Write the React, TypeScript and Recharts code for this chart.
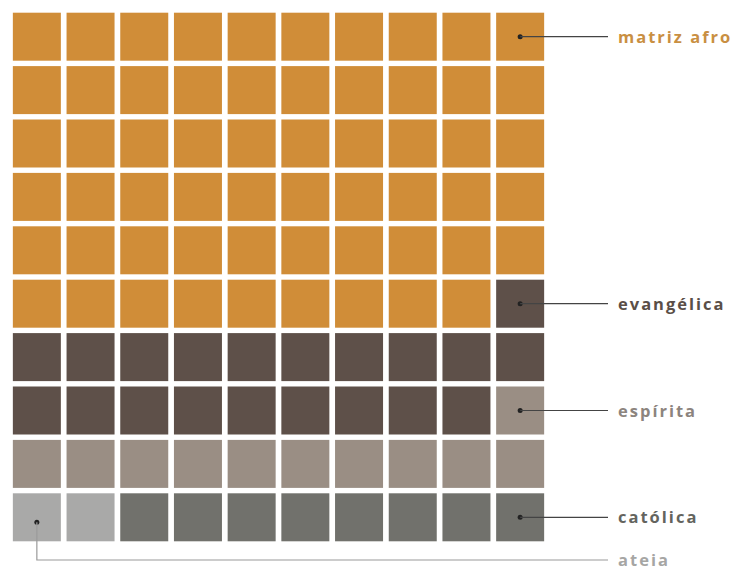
import { Scatter, ScatterChart, XAxis, YAxis } from "recharts"

// waffle: 100 cells, filled row by row from the top left
const categories = ["matriz afro", "evangélica", "espírita", "ateia", "católica"]
const counts = [59, 20, 11, 2, 8]
// which cell (index inside each category) carries the label dot
const anchorCell = [9, 0, 0, 0, 7]

const fills = ["#D08D38", "#5E5049", "#9A8E84", "#A9A9A8", "#71716C"]
const textColors = ["#C98F42", "#5A4E47", "#8C847E", "#A6A6A4", "#64645E"]

type CellPoint = { x: number; y: number; cat: number; label?: string; elbow?: boolean }

const series: CellPoint[][] = []
const anchors: CellPoint[] = []
let idx = 0
categories.forEach((name, c) => {
  const pts: CellPoint[] = []
  for (let k = 0; k < counts[c]; k++) {
    const p = { x: (idx % 10) + 0.5, y: Math.floor(idx / 10) + 0.5, cat: c }
    pts.push(p)
    if (k === anchorCell[c]) {
      anchors.push({ ...p, label: name, elbow: p.x < 5 })
    }
    idx++
  }
  series.push(pts)
})

const CELL = 48
const LINE_END = 608
const TEXT_X = 618

const Square = (props: any) => (
  <rect
    x={props.cx - CELL / 2}
    y={props.cy - CELL / 2}
    width={CELL}
    height={CELL}
    fill={props.fill}
  />
)

const Callout = (props: any) => {
  const { cx, cy, payload } = props
  const c = payload.cat
  const textStyle = {
    fontFamily: "'Open Sans', sans-serif",
    fontWeight: 700,
    fontSize: 16.5,
    letterSpacing: 2,
  }
  if (payload.elbow) {
    const dy = cy + 5
    const bottom = 560
    return (
      <g>
        <circle cx={cx} cy={dy} r={2.5} fill="#222" />
        <polyline
          points={`${cx},${dy} ${cx},${bottom} ${LINE_END},${bottom}`}
          fill="none"
          stroke="#9a9a9a"
          strokeWidth={1.2}
        />
        <text x={TEXT_X} y={bottom + 6} fill={textColors[c]} style={textStyle}>
          {payload.label}
        </text>
      </g>
    )
  }
  return (
    <g>
      <circle cx={cx} cy={cy} r={2.5} fill="#222" />
      <line x1={cx} y1={cy} x2={LINE_END} y2={cy} stroke="#444" strokeWidth={1.2} />
      <text x={TEXT_X} y={cy + 6} fill={textColors[c]} style={textStyle}>
        {payload.label}
      </text>
    </g>
  )
}

export default function App() {
  return (
    <div style={{ position: "fixed", left: 0, top: 0, background: "#fff" }}>
      <ScatterChart
        width={740}
        height={573}
        margin={{ top: 10, right: 193, bottom: 29, left: 10 }}
      >
        <XAxis type="number" dataKey="x" domain={[0, 10]} hide />
        <YAxis type="number" dataKey="y" domain={[0, 10]} reversed hide />
        {series.map((pts, c) => (
          <Scatter
            key={categories[c]}
            data={pts}
            fill={fills[c]}
            shape={Square}
            isAnimationActive={false}
          />
        ))}
        <Scatter data={anchors} shape={Callout} isAnimationActive={false} />
      </ScatterChart>
    </div>
  )
}
